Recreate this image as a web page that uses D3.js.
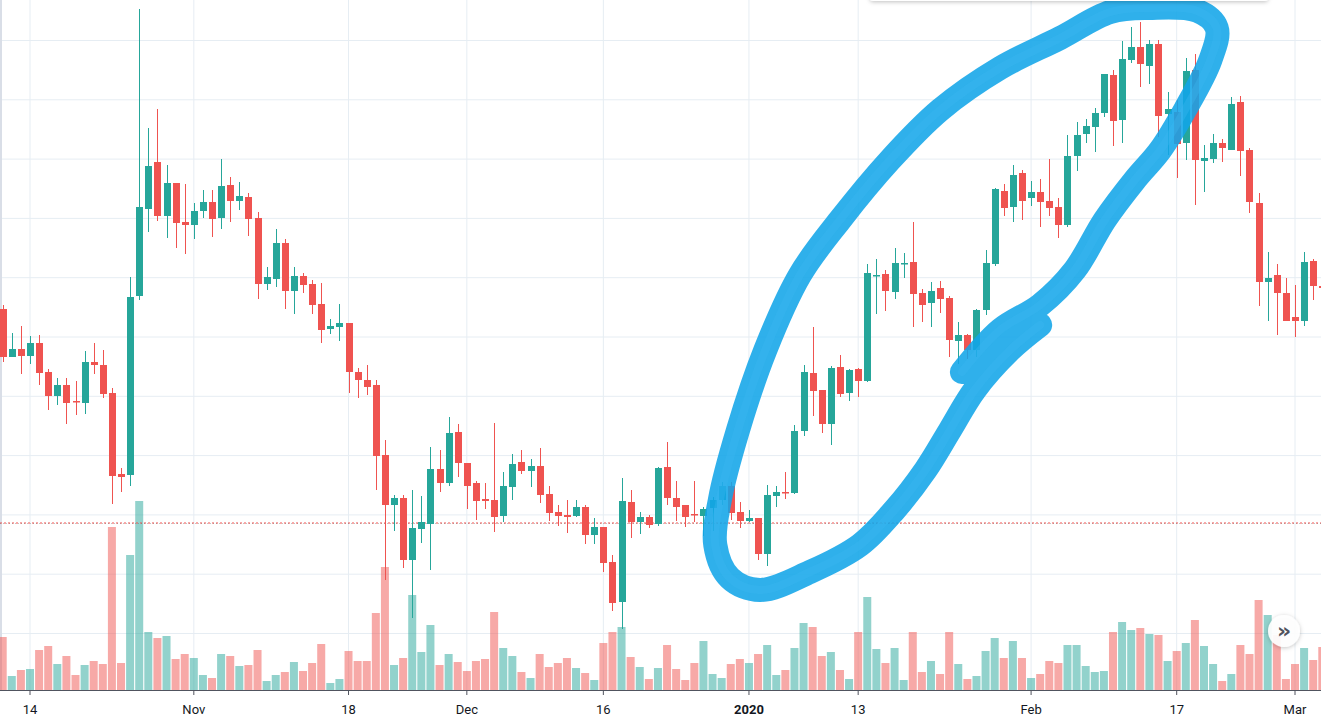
<!DOCTYPE html>
<html><head><meta charset="utf-8">
<script src="https://cdn.jsdelivr.net/npm/d3@7/dist/d3.min.js"></script>
<style>body{margin:0;background:#fff;overflow:hidden}svg{display:block}</style>
</head><body>
<svg id="c" width="1321" height="727"></svg>
<script>
// ---- data (BTC/USD style daily candles) ----
const startDate = new Date(2019, 9, 11); // first visible candle
const opens  = [6910,6430,6510,6440,6570,6280,6040,6150,5990,5970,6380,6350,6070,5260,5250,7040,7910,8380,7840,8170,7780,7750,7890,7980,7820,8150,7990,8030,7820,7160,7210,7570,7090,7240,7160,6960,6710,6730,6770,6280,6200,6150,5450,4950,5020,4400,4710,4760,5310,5170,5680,5370,5170,5010,5000,4840,5130,5380,5290,5340,5060,4880,4850,4840,4930,4650,4730,4380,3980,4980,4780,4830,4760,5330,5020,4950,4860,4840,4920,5000,5140,4880,4790,4820,4460,5040,5080,5070,5690,6270,6100,5760,6330,6070,6310,6190,7240,7260,7080,7360,7380,7070,6970,7120,7020,6590,6650,6500,6900,7360,8090,7930,8270,8020,8080,7990,7930,7750,8440,8660,8730,8870,9250,8800,9400,9530,9340,9560,8860,8880,8570,9300,8390,8410,8570,8500,8980,8500,7970,7180,7250,7070,6830,6790,7390,7140];
const highs  = [6950,6670,6740,6640,6650,6310,6220,6220,6190,6490,6570,6500,6120,5320,7230,9910,8720,8910,8350,8170,8160,7970,8100,8100,8410,8230,8180,8070,7880,7330,7710,7610,7330,7270,7200,7170,6810,6960,6770,6320,6350,6200,5600,5050,5050,5100,5040,5530,5500,5830,5760,5370,5190,5170,5770,5280,5460,5500,5410,5520,5140,4950,5000,5000,4950,4820,4730,4450,5220,5100,4880,4850,5330,5580,5190,4950,5190,4930,5030,5180,5180,4980,4900,4820,5150,5140,5280,5750,6350,6730,6100,6340,6450,6310,6320,7360,7410,7300,7520,7470,7780,7110,7180,7190,7040,6780,6660,6910,7500,8120,8160,8350,8300,8190,8210,8410,8020,8650,8780,8810,8920,9260,9300,9590,9730,9780,9600,9600,9080,9000,9420,9460,8550,8660,8610,9030,9040,8520,8070,7480,7360,7220,7150,7480,7410,7200];
const lows   = [6380,6430,6260,6360,6150,5900,5950,5760,5850,5860,6260,6020,4960,5080,5140,7000,7680,7790,7620,7520,7460,7610,7820,7630,7710,7780,7900,7640,7010,7100,7130,6910,6860,7070,6860,6570,6660,6590,6070,6020,6050,5100,4200,4690,4320,3820,4570,4300,5080,5140,5230,4910,4800,4910,4680,4780,5000,5260,5130,4970,4790,4740,4670,4830,4560,4560,4280,3890,3710,4620,4660,4720,4740,4950,4790,4730,4780,4640,4690,4950,4800,4720,4780,4400,4340,4930,5010,5060,5640,5840,5670,5550,6030,5990,6030,6180,6860,6890,7010,7220,6730,6780,6730,6870,6430,6360,6410,6430,6850,7340,7840,7780,7800,7940,7730,7840,7620,7730,8290,8570,8480,8830,8540,8570,9370,9130,9160,8630,8450,8220,8400,7950,8080,8370,8380,8500,8240,7870,6940,6790,6650,6790,6630,6740,7000,7050];
const closes = [6430,6510,6440,6570,6270,6040,6150,5970,5980,6380,6350,6060,5240,5230,7030,7930,8340,7840,8170,7770,7750,7890,7980,7810,8140,7990,8040,7810,7160,7230,7570,7090,7240,7150,6950,6700,6740,6770,6280,6200,6130,5440,4950,5020,4400,4720,4780,5310,5170,5670,5370,5140,4990,4990,4830,5140,5360,5290,5340,5050,4870,4840,4830,4930,4650,4730,4370,3970,4990,4780,4830,4750,5320,5020,4930,4830,4850,4910,5000,5140,4870,4790,4820,4460,5050,5080,5070,5690,6280,6090,5760,6320,6060,6300,6190,7270,7250,7090,7370,7370,7060,6950,7090,7010,6600,6650,6500,6900,7370,8110,7920,8250,7990,8080,7980,7920,7750,8440,8650,8740,8870,9260,8790,9410,9530,9360,9560,8840,8910,8560,9290,8400,8420,8570,8520,8960,8490,7980,7180,7220,7070,6790,6790,7380,7140,7120];
const volumes = [53,14,20,21,40,44,26,34,15,25,29,26,163,27,135,189,58,52,54,31,36,32,15,12,36,34,24,25,40,9,15,18,28,19,27,46,7,11,39,29,29,77,123,25,32,95,38,65,25,36,28,19,29,31,78,42,34,18,12,36,23,27,32,22,17,10,47,58,63,33,23,11,22,45,21,10,27,49,16,12,26,31,27,36,45,15,20,42,67,63,34,38,20,11,58,93,41,27,42,10,58,18,29,16,58,26,11,14,39,52,32,49,32,12,16,29,27,45,45,24,18,19,58,68,60,62,56,55,29,39,47,70,44,26,9,16,45,36,90,75,55,11,26,42,30,43];
const tickDates  = [[2019,9,14],[2019,10,1],[2019,10,18],[2019,11,1],[2019,11,16],[2020,0,1],[2020,0,13],[2020,1,1],[2020,1,17],[2020,2,1]];
const tickLabels = ["14","Nov","18","Dec","16","2020","13","Feb","17","Mar"];
const gridPrices = [9595,9002,8409,7816,7223,6630,6037,5444,4851,4258,3665];
const lastPrice = 4770;
// hand-drawn annotation loop (days after 14 Oct / price units)
const loopDay   = [102.4,106.6,111,114.8,118.1,121.4,124.2,126.9,129.7,130.4,128.3,123,118.7,113.2,106.6,100,94.5,89,84.6,80.8,77.8,75.8,75.3,76.9,80.2,85.7,91.2,95,98.4,101.1,103.8,107.7,111];
const loopPrice = [6280,6700,6950,7300,7800,8200,8500,8900,9400,9720,9890,9920,9880,9620,9320,8900,8400,7800,7250,6500,5700,5000,4550,4220,4100,4280,4550,4900,5300,5700,6100,6500,6750];

const up="#26a69a", dn="#ef5350";
const svg=d3.select("#c");
const dates=opens.map((_,i)=>d3.timeDay.offset(startDate,i));
const x=d3.scaleTime().domain([new Date(2019,9,14),new Date(2020,2,1)]).range([30,1295]);
const y=d3.scaleLinear().domain([10000,3100]).range([0,690]);
const vy=d3.scaleLinear().domain([0,100]).range([690,590]);
const dayPx=x(new Date(2019,9,15))-x(new Date(2019,9,14));

// grid
svg.append("g").selectAll("line").data(gridPrices).join("line")
  .attr("x1",0).attr("x2",1321).attr("y1",d=>y(d)).attr("y2",d=>y(d))
  .attr("stroke","#e6edf3").attr("stroke-width",1);
const tDates=tickDates.map(t=>new Date(t[0],t[1],t[2]));
svg.append("g").selectAll("line").data(tDates).join("line")
  .attr("x1",d=>x(d)).attr("x2",d=>x(d)).attr("y1",0).attr("y2",690)
  .attr("stroke","#e6edf3");
svg.append("line").attr("x1",1).attr("x2",1).attr("y1",0).attr("y2",690).attr("stroke","#d9dee7").attr("stroke-width",2);

// volume
svg.append("g").selectAll("rect").data(volumes).join("rect")
  .attr("x",(d,i)=>x(dates[i])-4).attr("width",8)
  .attr("y",d=>vy(d)).attr("height",d=>690-vy(d))
  .attr("fill",(d,i)=>closes[i]>=opens[i]?"rgba(38,166,154,0.5)":"rgba(239,83,80,0.5)");

// last price line
svg.append("line").attr("x1",0).attr("x2",1321).attr("y1",y(lastPrice)).attr("y2",y(lastPrice))
  .attr("stroke","#ef5350").attr("stroke-dasharray","2,2").attr("stroke-width",1);
svg.append("line").attr("x1",0).attr("x2",1321).attr("y1",y(lastPrice)+0.5).attr("y2",y(lastPrice)+0.5)
  .attr("stroke","#555").attr("stroke-opacity",0.35).attr("stroke-dasharray","1,2");

// candles
const cg=svg.append("g").selectAll("g").data(opens).join("g");
cg.append("line").attr("x1",(d,i)=>Math.round(x(dates[i]))+0.5).attr("x2",(d,i)=>Math.round(x(dates[i]))+0.5)
  .attr("y1",(d,i)=>y(highs[i])).attr("y2",(d,i)=>y(lows[i]))
  .attr("stroke",(d,i)=>closes[i]>=opens[i]?up:dn).attr("stroke-width",1);
cg.append("rect").attr("x",(d,i)=>Math.round(x(dates[i]))-3).attr("width",7)
  .attr("y",(d,i)=>y(Math.max(opens[i],closes[i])))
  .attr("height",(d,i)=>Math.max(1.5,Math.abs(y(opens[i])-y(closes[i]))))
  .attr("fill",(d,i)=>closes[i]>=opens[i]?up:dn);

// annotation loop
const x0=x(new Date(2019,9,14));
const loop=d3.line().curve(d3.curveCatmullRom.alpha(0.5))
  .x((d,i)=>x0+loopDay[i]*dayPx)
  .y((d,i)=>y(loopPrice[i]));
svg.append("path").attr("d",loop(loopDay)).attr("fill","none")
  .attr("stroke","#12a5e8").attr("stroke-opacity",0.88).attr("stroke-width",24)
  .attr("stroke-linecap","round").attr("stroke-linejoin","round");
svg.append("path").attr("d",loop(loopDay)).attr("fill","none")
  .attr("stroke","#3db8f0").attr("stroke-opacity",0.35).attr("stroke-width",8)
  .attr("stroke-linecap","round");

// top card
const defs=svg.append("defs");
const f=defs.append("filter").attr("id","sh").attr("x","-20%").attr("y","-50%").attr("width","140%").attr("height","200%");
f.append("feDropShadow").attr("dx",0).attr("dy",1).attr("stdDeviation",2).attr("flood-color","#000").attr("flood-opacity",0.25);
svg.append("rect").attr("x",870).attr("y",-30).attr("width",398).attr("height",31).attr("rx",3).attr("fill","#fff").attr("filter","url(#sh)");

// x axis
svg.append("rect").attr("x",0).attr("y",691).attr("width",1321).attr("height",36).attr("fill","#fff");
svg.append("line").attr("x1",0).attr("x2",1321).attr("y1",690.5).attr("y2",690.5).attr("stroke","#50535e");
svg.append("g").selectAll("line").data(tDates).join("line")
  .attr("x1",d=>x(d)).attr("x2",d=>x(d)).attr("y1",691).attr("y2",695).attr("stroke","#50535e");
svg.append("g").selectAll("text").data(tDates).join("text")
  .attr("x",d=>x(d)).attr("y",714).attr("text-anchor","middle")
  .attr("font-family","Roboto, 'Noto Sans', sans-serif").attr("font-size",13)
  .attr("font-weight",(d,i)=>tickLabels[i]==="2020"?"bold":"normal")
  .attr("fill","#131722").text((d,i)=>tickLabels[i]);

// scroll button
svg.append("circle").attr("cx",1284).attr("cy",631).attr("r",16).attr("fill","#fff").attr("fill-opacity",0.92).attr("filter","url(#sh)");
svg.append("text").attr("x",1284).attr("y",638).attr("text-anchor","middle").attr("font-size",22)
  .attr("font-family","DejaVu Sans").attr("fill","#50535e").attr("font-weight","bold").text("»");
</script>
</body></html>
